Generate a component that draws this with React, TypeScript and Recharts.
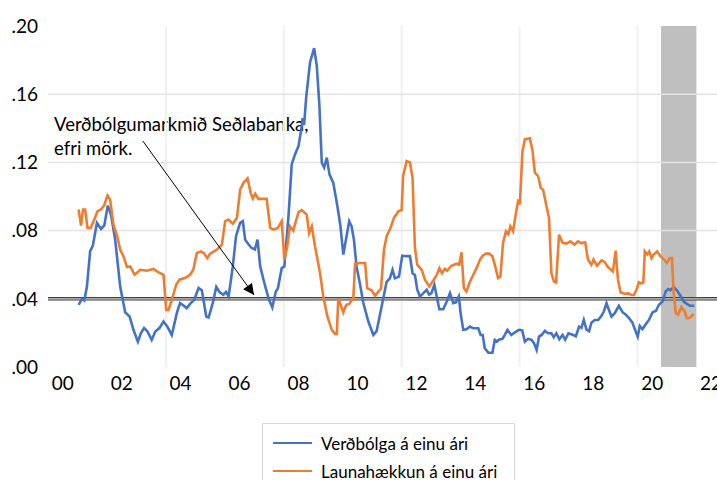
import React from 'react';
import { LineChart, Line, XAxis, YAxis, ReferenceLine, ReferenceArea } from 'recharts';

// time axis: years after 2000 (monthly-ish readings)
const INFL_T = [
  1.04, 1.15, 1.23, 1.32, 1.43, 1.52, 1.66, 1.8, 1.91, 2.03, 2.14, 2.28, 2.45, 2.62, 2.77, 2.9,
  3.05, 3.15, 3.26, 3.37, 3.52, 3.64, 3.78, 3.92, 4.05, 4.2, 4.37, 4.48, 4.6, 4.71, 4.82, 4.96,
  5.11, 5.22, 5.37, 5.45, 5.59, 5.71, 5.82, 5.95, 6.04, 6.13, 6.27, 6.38, 6.52, 6.61, 6.69, 6.8,
  6.91, 7.02, 7.11, 7.2, 7.33, 7.48, 7.61, 7.73, 7.8, 7.93, 8.02, 8.16, 8.27, 8.38, 8.5, 8.59,
  8.64, 8.69, 8.76, 8.89, 9.03, 9.12, 9.21, 9.29, 9.37, 9.46, 9.55, 9.68, 9.82, 9.92, 10.02, 10.13,
  10.22, 10.3, 10.38, 10.47, 10.59, 10.7, 10.87, 11.04, 11.15, 11.32, 11.49, 11.6, 11.69, 11.77, 11.91, 12.02,
  12.15, 12.28, 12.37, 12.45, 12.53, 12.62, 12.74, 12.85, 12.93, 13.01, 13.11, 13.19, 13.28, 13.41, 13.53, 13.64,
  13.75, 13.84, 13.94, 14.0, 14.09, 14.2, 14.32, 14.43, 14.6, 14.68, 14.75, 14.82, 14.94, 15.08, 15.16, 15.24,
  15.3, 15.42, 15.5, 15.59, 15.72, 15.87, 15.98, 16.09, 16.18, 16.29, 16.41, 16.49, 16.58, 16.66, 16.75, 16.86,
  16.97, 17.08, 17.16, 17.25, 17.35, 17.46, 17.55, 17.66, 17.82, 17.91, 18.02, 18.1, 18.18, 18.27, 18.36, 18.44,
  18.55, 18.67, 18.78, 18.86, 18.95, 19.04, 19.12, 19.23, 19.37, 19.5, 19.61, 19.72, 19.83, 19.94, 20.01, 20.08,
  20.17, 20.3, 20.39, 20.51, 20.63, 20.73, 20.85, 20.96, 21.04, 21.12, 21.23, 21.34, 21.46, 21.57, 21.68, 21.79,
  21.93,
];
const INFL_V = [
  0.0365, 0.04, 0.039, 0.047, 0.068, 0.071, 0.0845, 0.081, 0.083, 0.0947, 0.089, 0.0747, 0.047, 0.032, 0.0296, 0.0218,
  0.0149, 0.0198, 0.0228, 0.021, 0.0159, 0.0208, 0.0228, 0.0267, 0.0237, 0.0188, 0.0316, 0.0375, 0.036, 0.0345, 0.037, 0.0394,
  0.0463, 0.045, 0.0296, 0.029, 0.0375, 0.047, 0.044, 0.0424, 0.044, 0.0414, 0.059, 0.0767, 0.0845, 0.0855, 0.0747, 0.072,
  0.0698, 0.069, 0.0747, 0.059, 0.05, 0.0404, 0.0349, 0.0443, 0.046, 0.058, 0.059, 0.0884, 0.1188, 0.1247, 0.1296, 0.139,
  0.146, 0.142, 0.158, 0.1786, 0.187, 0.1767, 0.153, 0.1198, 0.117, 0.1228, 0.113, 0.108, 0.0943, 0.083, 0.0659, 0.0767,
  0.0855, 0.0826, 0.0747, 0.059, 0.0482, 0.0375, 0.0267, 0.0188, 0.021, 0.0355, 0.05, 0.052, 0.057, 0.052, 0.053, 0.0653,
  0.065, 0.065, 0.055, 0.054, 0.0453, 0.0414, 0.0433, 0.0453, 0.0424, 0.0433, 0.0482, 0.0414, 0.0339, 0.0339, 0.0384, 0.0433,
  0.0375, 0.0379, 0.0414, 0.0316, 0.0218, 0.0221, 0.0237, 0.0227, 0.0227, 0.0188, 0.0188, 0.011, 0.0084, 0.0084, 0.0159, 0.015,
  0.016, 0.0165, 0.0188, 0.0218, 0.0188, 0.0206, 0.0218, 0.0215, 0.0149, 0.0165, 0.0159, 0.014, 0.01, 0.0178, 0.0188, 0.0212,
  0.0198, 0.0198, 0.0175, 0.0198, 0.0163, 0.0188, 0.016, 0.0198, 0.0188, 0.018, 0.0237, 0.023, 0.0276, 0.022, 0.021, 0.026,
  0.0276, 0.0276, 0.03, 0.0325, 0.0375, 0.0331, 0.0296, 0.0316, 0.0359, 0.032, 0.0306, 0.0286, 0.026, 0.0208, 0.0178, 0.0241,
  0.0222, 0.0255, 0.0276, 0.032, 0.033, 0.0365, 0.0384, 0.0443, 0.0457, 0.045, 0.0469, 0.045, 0.0418, 0.0384, 0.037, 0.0359,
  0.0359,
];

const WAGE_T = [
  1.04, 1.12, 1.19, 1.26, 1.34, 1.45, 1.57, 1.68, 1.8, 1.91, 2.02, 2.11, 2.22, 2.35, 2.45, 2.56,
  2.68, 2.79, 2.94, 3.13, 3.36, 3.58, 3.75, 3.92, 4.01, 4.09, 4.2, 4.35, 4.46, 4.65, 4.82, 4.93,
  5.05, 5.19, 5.28, 5.41, 5.5, 5.73, 5.9, 6.01, 6.12, 6.27, 6.41, 6.52, 6.63, 6.77, 6.88, 6.95,
  7.03, 7.14, 7.28, 7.42, 7.54, 7.65, 7.8, 7.93, 8.02, 8.11, 8.21, 8.32, 8.5, 8.61, 8.78, 8.86,
  8.95, 9.06, 9.23, 9.34, 9.48, 9.63, 9.74, 9.8, 9.85, 9.95, 10.02, 10.12, 10.22, 10.36, 10.42, 10.59,
  10.76, 10.83, 10.98, 11.1, 11.21, 11.3, 11.4, 11.49, 11.6, 11.74, 11.89, 12.0, 12.05, 12.17, 12.28, 12.37,
  12.45, 12.53, 12.68, 12.79, 12.94, 13.09, 13.19, 13.28, 13.37, 13.46, 13.54, 13.69, 13.86, 13.95, 14.03, 14.11,
  14.2, 14.32, 14.43, 14.54, 14.66, 14.75, 14.86, 14.97, 15.08, 15.19, 15.27, 15.35, 15.44, 15.54, 15.62, 15.69,
  15.78, 15.88, 15.96, 16.01, 16.1, 16.18, 16.35, 16.44, 16.52, 16.63, 16.72, 16.8, 16.89, 17.0, 17.08, 17.17,
  17.24, 17.34, 17.46, 17.59, 17.72, 17.87, 17.98, 18.1, 18.23, 18.32, 18.44, 18.51, 18.63, 18.78, 18.89, 19.0,
  19.17, 19.26, 19.34, 19.43, 19.57, 19.69, 19.8, 19.88, 19.97, 20.05, 20.12, 20.2, 20.25, 20.33, 20.4, 20.48,
  20.55, 20.67, 20.78, 20.93, 21.0, 21.09, 21.17, 21.23, 21.3, 21.38, 21.49, 21.6, 21.68, 21.79, 21.91,
];
const WAGE_V = [
  0.0924, 0.083, 0.0924, 0.0924, 0.0816, 0.0816, 0.0865, 0.0914, 0.0924, 0.095, 0.1006, 0.098, 0.0835, 0.0767, 0.0688, 0.065,
  0.0586, 0.059, 0.0541, 0.057, 0.0565, 0.0575, 0.0555, 0.054, 0.0335, 0.0335, 0.0394, 0.0482, 0.0512, 0.0522, 0.0541, 0.057,
  0.0669, 0.0678, 0.0669, 0.0639, 0.0665, 0.0688, 0.0718, 0.0855, 0.0865, 0.084, 0.0875, 0.104, 0.108, 0.1106, 0.102, 0.0988,
  0.1016, 0.0986, 0.0986, 0.0986, 0.0816, 0.0806, 0.0816, 0.0855, 0.063, 0.07, 0.0825, 0.08, 0.0908, 0.092, 0.0894, 0.0786,
  0.0825, 0.0708, 0.0551, 0.0414, 0.0296, 0.0218, 0.0194, 0.0194, 0.0404, 0.0355, 0.032, 0.0365, 0.037, 0.0404, 0.0606, 0.061,
  0.061, 0.0463, 0.045, 0.0418, 0.0443, 0.046, 0.0688, 0.0767, 0.0806, 0.0875, 0.0914, 0.092, 0.112, 0.1208, 0.12, 0.111,
  0.0698, 0.06, 0.057, 0.0512, 0.0473, 0.0512, 0.054, 0.058, 0.055, 0.0575, 0.0565, 0.0594, 0.0606, 0.06, 0.0673, 0.0463,
  0.0443, 0.0502, 0.054, 0.058, 0.063, 0.0653, 0.0665, 0.0665, 0.065, 0.058, 0.0522, 0.053, 0.0728, 0.0796, 0.078, 0.0825,
  0.0796, 0.0904, 0.0982, 0.0953, 0.1267, 0.1335, 0.1341, 0.127, 0.114, 0.112, 0.105, 0.104, 0.0963, 0.0875, 0.0551, 0.05,
  0.0496, 0.0776, 0.0728, 0.0724, 0.0737, 0.0718, 0.0737, 0.0727, 0.0731, 0.063, 0.06, 0.063, 0.0594, 0.0625, 0.0616, 0.0586,
  0.056, 0.0682, 0.0512, 0.0437, 0.043, 0.0432, 0.0422, 0.0422, 0.0453, 0.0496, 0.049, 0.0496, 0.0678, 0.066, 0.0678, 0.0639,
  0.066, 0.0678, 0.065, 0.0625, 0.061, 0.0639, 0.0639, 0.0433, 0.0316, 0.0306, 0.0351, 0.0326, 0.0286, 0.029, 0.0312,
];

const Y_TICKS = [0, 0.04, 0.08, 0.12, 0.16, 0.2];
const H_GRID = [0.08, 0.12, 0.16];
const V_GRID = [4, 8, 12, 16, 20];
const LABEL_YEARS = [0, 2, 4, 6, 8, 10, 12, 14, 16, 18, 20, 22];
const TARGET_UPPER = 0.04;
const FORECAST_START = 20.8;
const FORECAST_END = 22.0;
const ARROW_FROM = { x: 3.22, y: 0.1325 };
const ARROW_TO = { x: 6.99, y: 0.0422 };

const BLUE = '#4472c4';
const ORANGE = '#ed7d31';
const FONT = 'Lato, "Open Sans", sans-serif';

const inflData = INFL_T.map((t, i) => ({ t, v: INFL_V[i] }));
const wageData = WAGE_T.map((t, i) => ({ t, v: WAGE_V[i] }));

const fmtY = (v: number) => v.toFixed(2).replace(/^0/, '');
const fmtX = (v: number) => String(Math.round(v - 0.5)).padStart(2, '0');

export default function App() {
  return (
    <div style={{ position: 'absolute', left: 0, top: 0, width: 717, height: 480, background: '#fff', fontFamily: FONT, overflow: 'hidden' }}>
      <svg width={0} height={0} style={{ position: 'absolute' }}>
        <defs>
          <marker id="arrowHead" viewBox="0 0 10 10" refX="10" refY="5" markerWidth="12" markerHeight="11" markerUnits="userSpaceOnUse" orient="auto">
            <path d="M0,0 L10,5 L0,10 z" fill="#000" />
          </marker>
        </defs>
      </svg>
      <LineChart width={717} height={480} margin={{ top: 26, right: 0, bottom: 83, left: 0 }}>
        <XAxis
          type="number"
          dataKey="t"
          domain={[0, 22.7]}
          ticks={LABEL_YEARS.map(y => y + 0.5)}
          tickFormatter={fmtX}
          interval={0}
          axisLine={false}
          tickLine={false}
          tickSize={6}
          tickMargin={4}
          height={30}
          tick={{ fill: '#000', fontSize: 19, fontFamily: FONT }}
          allowDataOverflow
        />
        <YAxis
          type="number"
          domain={[0, 0.2]}
          ticks={Y_TICKS}
          tickFormatter={fmtY}
          axisLine={false}
          tickLine={false}
          width={48}
          tickSize={6}
          tickMargin={4}
          tick={{ fill: '#000', fontSize: 19, fontFamily: FONT }}
        />
        {V_GRID.map(x => (
          <ReferenceLine key={`v${x}`} x={x} stroke="#f0f0f0" strokeWidth={2} />
        ))}
        {H_GRID.map(y => (
          <ReferenceLine key={`h${y}`} y={y} stroke="#e3e3e3" strokeWidth={1.5} />
        ))}
        <ReferenceArea x1={FORECAST_START} x2={FORECAST_END} y1={0} y2={0.2} fill="#bfbfbf" fillOpacity={1} stroke="none" />
        <ReferenceLine y={TARGET_UPPER} stroke="#404040" strokeWidth={3.4} />
        <ReferenceLine y={TARGET_UPPER} stroke="#d0d0d0" strokeWidth={1.2} />
        <Line data={inflData} dataKey="v" type="linear" stroke={BLUE} strokeWidth={2.6} dot={false} isAnimationActive={false} />
        <Line data={wageData} dataKey="v" type="linear" stroke={ORANGE} strokeWidth={2.6} dot={false} isAnimationActive={false} />
        <ReferenceLine
          segment={[ARROW_FROM, ARROW_TO]}
          shape={(p: any) => (
            <line x1={p.x1} y1={p.y1} x2={p.x2} y2={p.y2} stroke="#000" strokeWidth={1} markerEnd="url(#arrowHead)" />
          )}
        />
        <text x={54} y={131} fontSize={18.5} fontFamily={FONT} fill="#000">Verðbólgumarkmið Seðlabanka,</text>
        <text x={54} y={155} fontSize={18.5} fontFamily={FONT} fill="#000">efri mörk.</text>
        <text x={678} y={240} textAnchor="middle" fontSize={19} fontFamily={FONT} fill="#000">Spá</text>
      </LineChart>
      <div style={{ position: 'absolute', left: 262, top: 423, width: 253, height: 70, border: '1px solid #d9d9d9', boxSizing: 'border-box' }}>
        {[
          { name: 'Verðbólga á einu ári', color: BLUE },
          { name: 'Launahækkun á einu ári', color: ORANGE },
        ].map((e, i) => (
          <div key={e.name} style={{ position: 'absolute', left: 10, top: 6 + i * 28, height: 26, display: 'flex', alignItems: 'center', whiteSpace: 'nowrap' }}>
            <span style={{ display: 'inline-block', width: 39, height: 2.5, background: e.color }} />
            <span style={{ marginLeft: 9, fontSize: 17, color: '#000' }}>{e.name}</span>
          </div>
        ))}
      </div>
    </div>
  );
}
